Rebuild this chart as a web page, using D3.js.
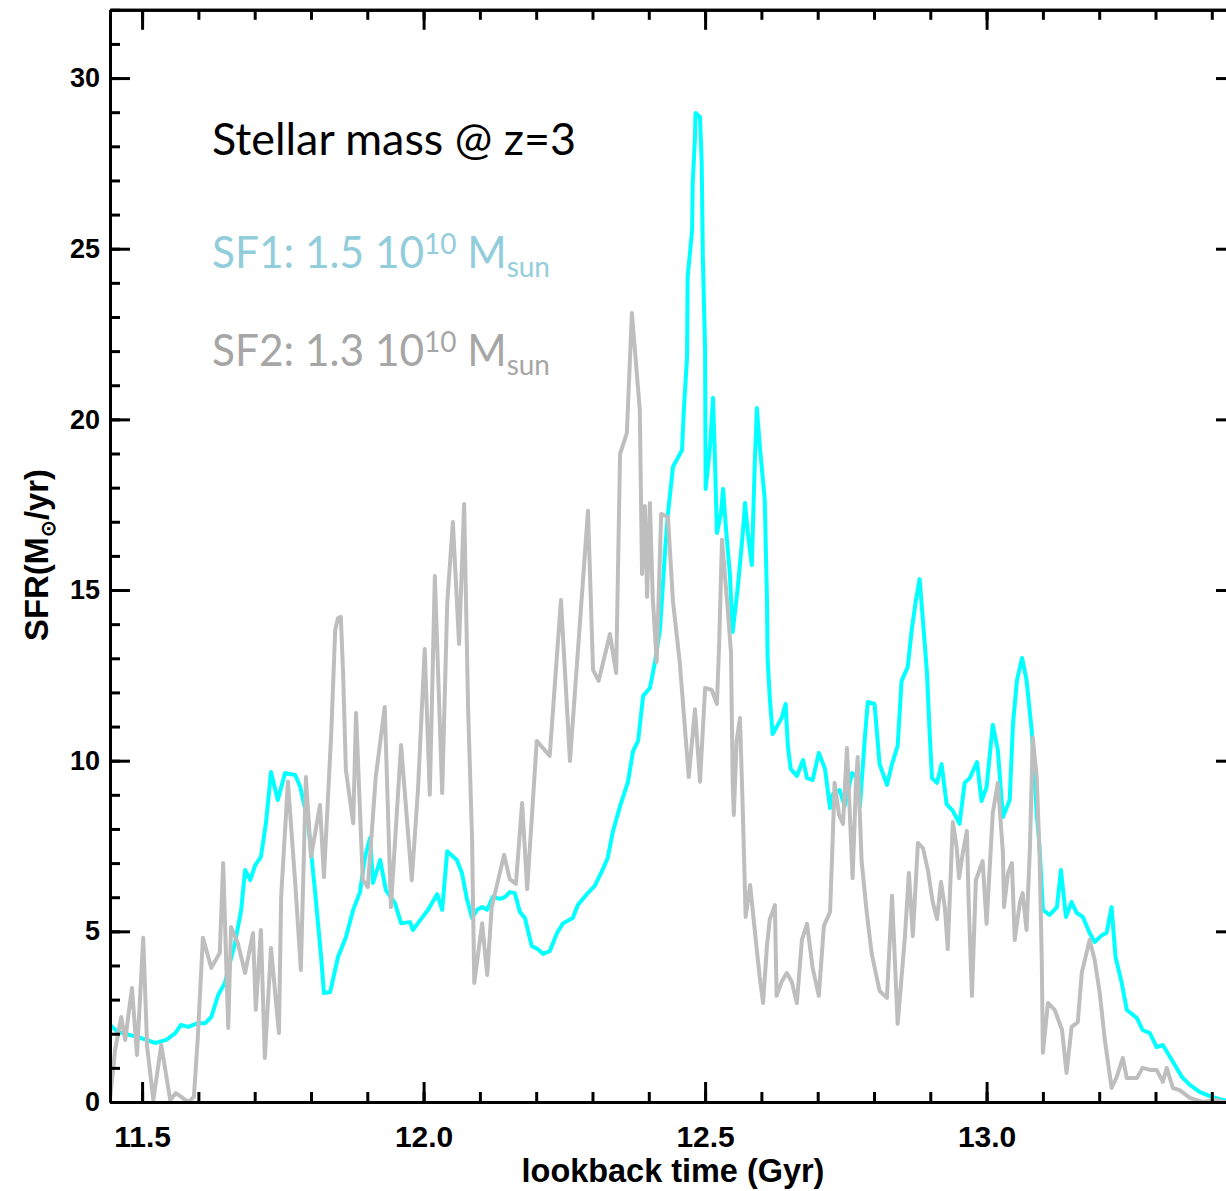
<!DOCTYPE html>
<html><head><meta charset="utf-8">
<script src="https://cdn.jsdelivr.net/npm/d3@7"></script>
<style>body{margin:0;background:#fff;} svg{display:block;}</style>
</head><body>
<svg id="chart" width="1226" height="1191"></svg>
<script>
// ---------- data ----------
const sf1Time = [11.443,11.457,11.493,11.523,11.543,11.559,11.569,11.582,11.599,11.612,11.623,11.635,11.647,11.665,11.676,11.683,11.692,11.701,11.711,11.720,11.729,11.741,11.754,11.772,11.781,11.795,11.807,11.818,11.823,11.834,11.848,11.862,11.875,11.887,11.896,11.905,11.910,11.923,11.933,11.949,11.960,11.976,11.981,11.994,12.008,12.024,12.033,12.042,12.059,12.068,12.077,12.086,12.095,12.104,12.113,12.123,12.136,12.145,12.153,12.162,12.171,12.180,12.192,12.203,12.212,12.224,12.237,12.248,12.265,12.274,12.290,12.304,12.317,12.327,12.336,12.349,12.363,12.372,12.381,12.390,12.402,12.411,12.420,12.429,12.434,12.443,12.459,12.462,12.468,12.469,12.477,12.478,12.482,12.483,12.491,12.494,12.496,12.500,12.501,12.509,12.514,12.517,12.521,12.528,12.532,12.537,12.544,12.549,12.558,12.567,12.571,12.576,12.583,12.588,12.592,12.597,12.606,12.610,12.611,12.615,12.620,12.636,12.643,12.647,12.652,12.663,12.674,12.681,12.691,12.702,12.713,12.722,12.727,12.739,12.748,12.761,12.770,12.775,12.784,12.789,12.801,12.810,12.823,12.832,12.842,12.849,12.860,12.867,12.874,12.881,12.887,12.894,12.899,12.903,12.912,12.920,12.929,12.940,12.952,12.961,12.970,12.983,12.991,13.000,13.011,13.020,13.029,13.041,13.047,13.054,13.063,13.071,13.080,13.089,13.094,13.100,13.112,13.125,13.132,13.141,13.151,13.160,13.171,13.183,13.192,13.205,13.213,13.222,13.229,13.240,13.249,13.267,13.277,13.290,13.302,13.313,13.329,13.347,13.361,13.379,13.400,13.419,13.443];
const sf1Sfr = [2.26,2.05,1.90,1.73,1.82,2.02,2.26,2.20,2.31,2.31,2.49,3.13,3.49,4.66,5.63,6.80,6.50,6.94,7.18,8.17,9.67,8.85,9.64,9.58,9.23,8.17,6.21,4.25,3.19,3.22,4.25,4.83,5.63,6.15,7.18,7.74,6.42,7.09,6.21,5.83,5.24,5.27,5.04,5.33,5.63,6.09,5.63,7.35,7.09,6.71,5.95,5.39,5.63,5.71,5.63,6.01,5.95,6.01,6.15,6.12,5.57,5.39,4.57,4.48,4.34,4.42,4.95,5.24,5.39,5.77,6.09,6.33,6.77,7.15,7.91,8.67,9.38,10.28,10.58,11.90,12.13,12.89,13.86,16.17,17.23,18.61,19.10,20.19,21.83,24.17,25.55,26.93,28.24,28.98,28.86,27.51,24.76,22.03,17.96,19.25,20.63,19.13,16.67,17.23,17.96,16.82,15.47,13.77,15.06,16.67,17.55,16.67,15.73,18.58,20.33,19.25,17.64,14.65,13.01,11.81,10.78,11.25,11.66,10.43,9.76,9.55,10.02,9.49,9.43,10.23,9.76,8.61,9.02,9.14,8.67,9.64,9.49,8.67,10.72,11.72,11.66,9.90,9.29,9.90,10.43,12.34,12.75,13.83,14.65,15.32,14.09,12.60,10.78,9.49,9.35,9.90,8.73,8.53,8.15,9.35,9.49,9.96,8.82,9.23,11.05,10.31,8.35,8.85,11.10,12.36,13.01,12.36,10.90,8.47,7.47,5.63,5.48,5.71,6.80,5.42,5.86,5.54,5.42,4.95,4.69,4.89,4.95,5.71,4.25,3.49,2.70,2.46,2.11,2.02,1.61,1.67,1.23,0.73,0.50,0.29,0.15,0.06,0.02];

const sf2Time = [11.443,11.452,11.463,11.470,11.482,11.491,11.502,11.509,11.520,11.534,11.550,11.560,11.582,11.592,11.599,11.608,11.623,11.638,11.644,11.653,11.658,11.670,11.683,11.697,11.702,11.711,11.718,11.729,11.743,11.747,11.759,11.772,11.782,11.791,11.800,11.816,11.823,11.836,11.843,11.848,11.853,11.857,11.862,11.875,11.880,11.892,11.901,11.915,11.931,11.942,11.960,11.979,11.990,12.002,12.011,12.020,12.033,12.042,12.052,12.063,12.072,12.079,12.086,12.090,12.104,12.113,12.121,12.143,12.153,12.164,12.175,12.184,12.201,12.224,12.244,12.260,12.292,12.301,12.311,12.331,12.342,12.349,12.361,12.370,12.384,12.388,12.393,12.397,12.402,12.407,12.414,12.422,12.434,12.443,12.455,12.471,12.482,12.491,12.500,12.512,12.521,12.525,12.530,12.535,12.540,12.546,12.549,12.551,12.556,12.562,12.567,12.572,12.580,12.588,12.597,12.603,12.610,12.615,12.624,12.627,12.636,12.645,12.654,12.663,12.672,12.681,12.691,12.702,12.711,12.722,12.727,12.730,12.738,12.745,12.752,12.755,12.762,12.768,12.771,12.778,12.787,12.796,12.810,12.823,12.832,12.837,12.842,12.849,12.855,12.862,12.869,12.878,12.887,12.896,12.904,12.912,12.919,12.926,12.931,12.940,12.947,12.951,12.958,12.965,12.968,12.974,12.981,12.993,13.000,13.011,13.020,13.029,13.031,13.038,13.045,13.050,13.059,13.064,13.071,13.077,13.082,13.089,13.094,13.098,13.100,13.109,13.121,13.134,13.142,13.151,13.162,13.169,13.183,13.192,13.201,13.210,13.222,13.231,13.242,13.249,13.267,13.277,13.290,13.302,13.313,13.320,13.331,13.343,13.361,13.384,13.409,13.419,13.443];
const sf2Sfr = [0.06,1.52,2.49,1.82,3.34,1.38,4.81,1.61,0.06,1.67,0.06,0.26,0.00,0.15,1.90,4.81,3.93,4.37,7.00,2.17,5.13,4.66,3.78,4.95,2.70,5.04,1.29,4.51,2.02,6.01,9.38,6.42,3.87,9.52,7.18,8.70,6.59,10.81,13.83,14.18,14.21,12.57,9.73,8.17,11.40,6.50,6.30,9.52,11.57,5.71,10.46,6.50,9.14,13.27,9.00,15.41,9.05,14.62,16.99,13.42,17.52,11.57,7.76,3.49,5.24,3.72,5.71,7.24,6.53,6.39,8.76,6.24,10.58,10.14,14.71,9.99,17.32,12.66,12.34,13.71,12.57,18.99,19.60,23.12,20.28,15.47,17.46,14.80,17.55,14.80,12.89,17.23,17.14,14.65,12.89,9.52,11.51,9.38,12.13,12.07,11.66,13.42,16.47,15.47,14.50,13.16,9.35,8.41,10.58,11.25,8.53,5.42,6.36,5.07,3.66,2.90,4.60,5.36,5.77,3.11,3.52,3.78,3.52,2.90,4.75,5.22,3.93,3.11,5.16,5.57,7.85,9.35,8.41,8.15,10.37,9.23,6.56,9.35,10.11,7.06,5.57,4.34,3.25,3.05,6.04,4.19,2.29,3.66,4.86,6.71,4.86,7.59,7.44,6.77,5.89,5.36,6.45,5.68,4.48,8.20,7.44,6.56,7.32,7.94,5.95,3.11,6.50,7.06,5.22,8.47,9.35,7.30,5.71,6.71,7.00,4.75,5.83,6.12,5.04,7.47,10.69,9.52,7.30,4.16,1.44,2.90,2.70,2.11,0.85,2.20,2.34,3.78,4.75,4.16,3.19,1.82,0.41,0.73,1.29,0.70,0.70,1.00,0.94,0.94,0.59,1.00,0.41,0.35,0.12,0.00,0.06,0.00,0.00];

const xMajorTicks = [11.5, 12.0, 12.5, 13.0];
const xTickLabels = ["11.5", "12.0", "12.5", "13.0"];
const xMinorTicks = [11.5,11.6,11.7,11.8,11.9,12.0,12.1,12.2,12.3,12.4,12.5,12.6,12.7,12.8,12.9,13.0,13.1,13.2,13.3,13.4];
const yMajorTicks = [0, 5, 10, 15, 20, 25, 30];
const yTickLabels = ["0", "5", "10", "15", "20", "25", "30"];
const yMinorTicks = d3.range(0, 33, 1);
const xAxisTitle = "lookback time (Gyr)";
const titleText = "Stellar mass @ z=3";

// ---------- layout ----------
const svg = d3.select("#chart");
const L = 110, R = 1236, T = 9.8, B = 1102;
const x = d3.scaleLinear().domain([11.443, 13.443]).range([L, R]);
const y = d3.scaleLinear().domain([0, 32]).range([B, T]);

svg.append("rect").attr("width", 1226).attr("height", 1191).attr("fill", "#fff");

svg.append("defs").append("clipPath").attr("id", "plotclip")
  .append("rect").attr("x", L).attr("y", T).attr("width", R - L).attr("height", B - T);

const line = d3.line().x(d => x(d[0])).y(d => y(d[1]));
const sf1 = sf1Time.map((t, i) => [t, sf1Sfr[i]]);
const sf2 = sf2Time.map((t, i) => [t, sf2Sfr[i]]);

const plot = svg.append("g").attr("clip-path", "url(#plotclip)");
plot.append("path").datum(sf1).attr("d", line)
  .attr("fill", "none").attr("stroke", "#00FFFF").attr("stroke-width", 4)
  .attr("stroke-linejoin", "round");
plot.append("path").datum(sf2).attr("d", line)
  .attr("fill", "none").attr("stroke", "#BEBEBE").attr("stroke-width", 4)
  .attr("stroke-linejoin", "round");

// ---------- axes ----------
function styleAxis(g) {
  g.selectAll(".domain").attr("stroke", "#000").attr("stroke-width", 3);
  g.selectAll(".tick line").attr("stroke", "#000").attr("stroke-width", 3);
}
const tickFont = "'Liberation Sans', Arial, sans-serif";

// bottom
svg.append("g").attr("transform", `translate(0,${B})`)
  .call(d3.axisBottom(x).tickValues(xMinorTicks).tickSize(-10).tickSizeOuter(0).tickFormat(""))
  .call(styleAxis);
const gb = svg.append("g").attr("transform", `translate(0,${B})`)
  .call(d3.axisBottom(x).tickValues(xMajorTicks).tickSize(-20).tickSizeOuter(0).tickPadding(24)
        .tickFormat((d, i) => xTickLabels[i]))
  .call(styleAxis);
gb.selectAll("text").attr("font-family", tickFont).attr("font-weight", "bold")
  .attr("font-size", 30).attr("fill", "#000");
// top
svg.append("g").attr("transform", `translate(0,${T})`)
  .call(d3.axisTop(x).tickValues(xMinorTicks).tickSize(-10).tickSizeOuter(0).tickFormat(""))
  .call(styleAxis);
svg.append("g").attr("transform", `translate(0,${T})`)
  .call(d3.axisTop(x).tickValues(xMajorTicks).tickSize(-20).tickSizeOuter(0).tickFormat(""))
  .call(styleAxis);
// left
svg.append("g").attr("transform", `translate(${L},0)`)
  .call(d3.axisLeft(y).tickValues(yMinorTicks).tickSize(-10).tickSizeOuter(0).tickFormat(""))
  .call(styleAxis);
const gl = svg.append("g").attr("transform", `translate(${L},0)`)
  .call(d3.axisLeft(y).tickValues(yMajorTicks).tickSize(-20).tickSizeOuter(0).tickPadding(10)
        .tickFormat((d, i) => yTickLabels[i]))
  .call(styleAxis);
gl.selectAll("text").attr("font-family", tickFont).attr("font-weight", "bold")
  .attr("font-size", 27).attr("fill", "#000");
// right
svg.append("g").attr("transform", `translate(${R},0)`)
  .call(d3.axisRight(y).tickValues(yMinorTicks).tickSize(-10).tickSizeOuter(0).tickFormat(""))
  .call(styleAxis);
svg.append("g").attr("transform", `translate(${R},0)`)
  .call(d3.axisRight(y).tickValues(yMajorTicks).tickSize(-20).tickSizeOuter(0).tickFormat(""))
  .call(styleAxis);

function fitWidth(sel, target) {
  const w = sel.node().getBBox().width;
  const fs = parseFloat(sel.attr("font-size"));
  sel.attr("font-size", fs * target / w);
  return fs * target / w;
}

// axis titles
const xt = svg.append("text").attr("x", 673).attr("y", 1182).attr("text-anchor", "middle")
  .attr("font-family", tickFont).attr("font-weight", "bold").attr("font-size", 27)
  .attr("fill", "#000").text(xAxisTitle);
fitWidth(xt, 303);

function yTitle(fs) {
  const g = svg.append("text").attr("transform", "translate(48,555) rotate(-90)")
    .attr("text-anchor", "middle").attr("font-family", tickFont).attr("font-weight", "bold")
    .attr("font-size", fs).attr("fill", "#000");
  g.append("tspan").text("SFR(M");
  g.append("tspan").attr("font-size", fs * 0.6).attr("dy", fs * 0.2).text("\u2299");
  g.append("tspan").attr("dy", -fs * 0.2).text("/yr)");
  return g;
}
let yt = yTitle(25);
const ytw = yt.node().getBBox().width;
yt.remove();
yt = yTitle(25 * 172 / ytw);

// ---------- annotations ----------
const annFont = "Lato, 'Open Sans', sans-serif";
const title = svg.append("text").attr("x", 212).attr("y", 155)
  .attr("font-family", annFont).attr("font-size", 42).attr("fill", "#000").text(titleText);
const F = fitWidth(title, 364);

function massLabel(yBase, main, color, f) {
  const g = svg.append("g");
  const t = g.append("text").attr("x", 212).attr("y", yBase)
    .attr("font-family", annFont).attr("font-size", f).attr("fill", color);
  t.append("tspan").text(main);
  t.append("tspan").attr("font-size", f * 0.66).attr("dy", -f * 0.31).text("10");
  t.append("tspan").attr("font-size", f).attr("dy", f * 0.31).text(" M");
  t.append("tspan").attr("font-size", f * 0.66).attr("dy", f * 0.2).text("sun");
  const w = t.node().getBBox().width;
  const s = 338 / w;
  g.attr("transform", `translate(212,0) scale(${s},1) translate(-212,0)`);
  return g;
}
massLabel(268, "SF1: 1.5 10", "#92CDDC", F);
massLabel(366, "SF2: 1.3 10", "#A6A6A6", F);
</script>
</body></html>
